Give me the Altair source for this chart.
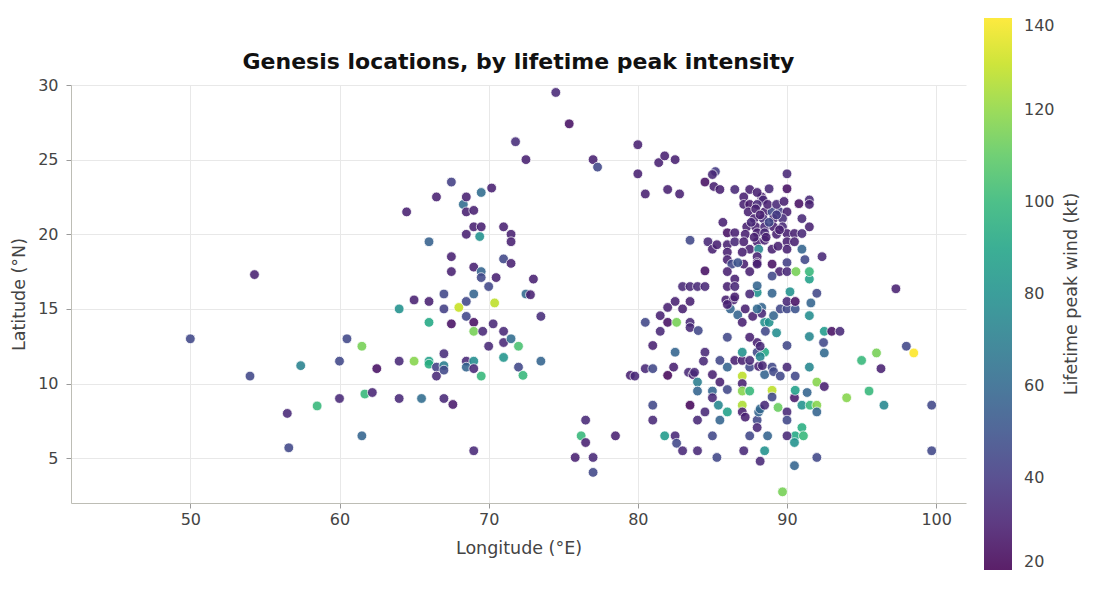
import altair as alt
import pandas as pd

# Genesis points: longitude (°E), latitude (°N), lifetime peak wind (kt)
lon = [
    50.0, 54.3, 54.0, 56.5, 56.6, 57.4, 58.5, 60.0, 60.0, 60.5,
    61.5, 61.5, 61.7, 62.2, 62.5, 64.0, 64.0, 64.0, 64.5, 65.0,
    65.0, 65.5, 66.0, 66.0, 66.0, 66.0, 66.0, 66.5, 66.5, 66.5,
    67.0, 67.0, 67.0, 67.0, 67.0, 67.0, 67.5, 67.5, 67.5, 67.5,
    67.6, 68.0, 68.3, 68.5, 68.5, 68.5, 68.5, 68.5, 68.5, 68.5,
    69.0, 69.0, 69.0, 69.0, 69.0, 69.0, 69.0, 69.0, 69.0, 69.5,
    69.4, 69.5, 69.5, 69.5, 69.6, 69.5, 70.0, 70.0, 70.2, 70.3,
    70.4, 70.5, 71.0, 71.0, 71.0, 71.0, 71.0, 71.5, 71.5, 71.5,
    71.5, 71.8, 72.0, 72.0, 72.3, 72.5, 72.5, 72.8, 73.0, 73.5,
    73.5, 74.5, 75.4, 75.8, 76.2, 76.5, 76.5, 77.0, 77.3, 77.0,
    77.0, 78.5, 79.5, 79.8,
    80.0, 80.0, 80.5, 81.4, 81.8, 82.5, 82.0, 82.8, 83.5, 84.5,
    84.7, 85.0, 84.5, 83.0, 83.5, 84.0, 84.5, 82.5, 83.5, 82.0,
    83.0, 81.5, 80.5, 82.0, 82.6, 83.5, 83.5, 84.05, 81.5, 81.0,
    82.5, 80.5, 81.0, 82.4, 82.0, 83.4, 83.7, 83.8, 84.0, 84.0,
    84.5, 84.4, 85.0, 85.5, 85.0, 85.0, 85.5, 86.0, 86.0, 86.5,
    87.0, 87.0, 87.0, 87.0, 87.0, 87.5, 87.5, 87.5, 88.0, 88.0,
    88.5, 87.5, 86.0, 88.1, 88.5, 88.5, 88.8, 89.3, 88.3, 88.3,
    88.0, 85.9, 86.4, 86.5, 86.2, 86.7, 87.0, 87.7, 88.0,
    81.0, 81.0, 81.8, 82.5, 82.6, 83.0, 83.5, 84.0, 84.0, 84.5,
    85.0, 85.3, 85.4, 85.5, 86.0, 87.0, 87.0, 87.2, 87.1, 87.5,
    88.0, 88.0, 88.1, 88.2, 88.5, 88.2, 88.5, 88.7, 89.4, 89.0,
    89.0, 90.5, 90.55, 91.35, 90.0, 90.0, 91.0, 91.55, 92.0, 92.0,
    91.0, 90.55, 91.1, 90.0, 90.5, 92.0, 90.5, 89.7, 94.0, 95.5,
    96.5, 99.7, 99.7, 92.0, 92.5,
    88.2, 88.2, 88.35, 89.0, 89.1, 89.55, 90.55, 90.0, 91.5, 90.0,
    91.5, 88.55, 89.1, 91.5, 89.55, 90.0, 90.55, 90.0, 90.55, 91.6,
    89.0, 90.2, 92.0, 91.5, 92.5, 93.0, 93.55, 92.45, 92.5, 95.0,
    96.0, 98.0, 98.5, 96.3, 97.3, 92.35,
    85.2, 85.0, 90.0, 85.1, 85.5, 86.5, 87.5, 88.8, 90.0, 87.1,
    88.3, 88.4, 87.1, 87.5, 88.0, 90.8, 91.5, 91.5, 87.4, 87.9,
    88.5, 89.0, 89.5, 90.0, 85.7, 87.8, 88.4, 89.1, 89.7, 91.0,
    87.3, 87.9, 88.5, 89.1, 89.7, 91.5, 86.0, 86.5, 87.2, 88.0,
    88.5, 89.3, 90.0, 90.5, 91.0, 85.3, 86.0, 86.5, 87.1, 88.0,
    88.5, 90.0, 90.5, 86.0, 87.5, 88.1, 89.0, 90.0, 91.0, 86.0,
    88.0, 91.2, 86.3, 87.1, 88.0, 89.0, 90.0, 86.0, 87.5, 89.5,
    90.0, 90.6, 91.5, 89.0, 86.5, 86.0, 86.5, 88.0, 87.5, 86.7,
    88.7, 89.3, 88.2, 89.3, 88.8, 89.5, 87.6, 88.6, 89.8, 88.0,
    87.8, 89.4, 86.0, 87.2, 87.0, 88.0,
]
lat = [
    13.0, 17.3, 10.5, 8.0, 5.7, 11.2, 8.5, 11.5, 9.0, 13.0,
    12.5, 6.5, 9.3, 9.4, 11.0, 15.0, 11.5, 9.0, 21.5, 15.6,
    11.5, 9.0, 19.5, 15.5, 14.1, 11.5, 11.3, 22.5, 11.1, 10.5,
    16.0, 15.0, 12.0, 11.2, 10.9, 9.0, 23.5, 18.5, 17.5, 14.0,
    8.6, 15.1, 22.0, 22.5, 21.5, 20.0, 15.5, 14.5, 11.5, 11.1,
    21.6, 20.5, 17.8, 16.0, 14.1, 13.5, 11.5, 11.0, 5.5, 22.8,
    19.85, 20.5, 17.5, 17.1, 13.5, 10.5, 16.5, 12.5, 23.1, 14.0,
    15.4, 17.1, 20.5, 18.35, 13.5, 12.75, 11.75, 13.0, 20.0, 19.5,
    18.05, 26.2, 12.5, 11.1, 10.55, 25.0, 16.0, 15.95, 17.0, 14.5,
    11.5, 29.5, 27.4, 5.05, 6.5, 7.55, 6.05, 25.0, 24.5, 5.05,
    4.05, 6.5, 10.55, 10.5,
    26.0, 24.05, 22.7, 24.8, 25.25, 25.0, 23.0, 22.7, 19.6, 23.5,
    19.5, 19.0, 17.55, 16.5, 16.5, 16.5, 16.5, 15.5, 15.5, 15.1,
    15.0, 14.55, 14.1, 14.1, 14.1, 14.1, 13.75, 13.55, 13.5, 12.55,
    12.1, 11.0, 11.0, 11.1, 10.55, 10.75, 10.6, 10.75, 10.1, 9.5,
    12.1, 11.5, 10.6, 10.1, 9.5, 9.05, 11.55, 11.1, 9.6, 11.55,
    11.55, 12.1, 10.5, 10.0, 9.5, 9.5, 11.1, 11.55, 12.75, 12.1,
    12.1, 13.1, 13.1, 11.15, 10.6, 14.1, 14.1, 13.4, 15.1, 14.7,
    16.1, 15.6, 15.6, 15.8, 15.0, 14.6, 14.1, 14.5, 15.0,
    8.55, 7.55, 6.5, 6.5, 6.0, 5.5, 8.55, 5.5, 7.55, 8.1,
    6.5, 5.05, 8.55, 7.55, 8.1, 8.55, 8.1, 7.75, 5.5, 6.5,
    7.55, 7.05, 8.1, 8.3, 8.55, 4.8, 5.5, 6.5, 8.4, 9.55,
    9.1, 9.05, 9.55, 9.4, 8.1, 7.55, 8.55, 8.55, 8.55, 8.1,
    7.05, 6.5, 6.5, 6.5, 6.05, 5.05, 4.5, 2.75, 9.05, 9.5,
    8.55, 8.55, 5.5, 10.1, 9.8,
    12.5, 11.8, 11.2, 11.1, 10.8, 10.5, 10.5, 11.1, 11.1, 12.55,
    13.15, 13.5, 14.55, 14.55, 15.0, 15.0, 15.0, 15.5, 15.5, 15.4,
    16.05, 16.15, 16.05, 17.0, 13.5, 13.5, 13.5, 12.75, 12.05, 11.55,
    12.05, 12.5, 12.05, 11.0, 16.35, 18.5,
    24.2, 24.0, 24.05, 23.2, 23.0, 23.0, 23.0, 23.05, 23.05, 22.5,
    22.5, 22.3, 22.0, 22.0, 22.0, 22.05, 22.3, 22.0, 21.5, 21.7,
    21.5, 21.5, 21.5, 21.5, 20.8, 21.05, 21.05, 21.05, 21.05, 21.05,
    20.5, 20.5, 20.5, 20.5, 20.5, 20.5, 20.1, 20.1, 20.0, 20.1,
    20.1, 20.0, 20.05, 20.05, 20.05, 19.3, 19.3, 19.5, 19.5, 19.5,
    19.6, 19.5, 19.5, 18.8, 19.0, 19.0, 19.0, 19.0, 19.0, 18.3,
    18.5, 18.3, 18.0, 18.0, 18.1, 18.0, 18.1, 17.5, 17.5, 17.5,
    17.5, 17.5, 17.5, 17.2, 17.0, 16.5, 16.5, 16.55, 16.0, 18.1,
    22.0, 22.0, 21.3, 21.3, 20.8, 20.3, 20.8, 19.8, 22.2, 22.8,
    19.8, 19.2, 15.3, 15.0, 18.8, 18.0,
]
wind = [
    45, 30, 45, 33, 45, 72, 100, 45, 33, 45,
    115, 58, 100, 32, 25, 80, 33, 33, 30, 30,
    118, 62, 56, 30, 92, 88, 95, 30, 42, 33,
    45, 42, 35, 70, 45, 33, 42, 30, 30, 25,
    28, 130, 62, 30, 30, 30, 45, 45, 33, 58,
    30, 30, 30, 58, 25, 115, 78, 33, 33, 62,
    80, 30, 58, 45, 33, 100, 45, 33, 30, 33,
    128, 30, 30, 45, 33, 33, 82, 62, 30, 30,
    30, 35, 105, 45, 100, 30, 60, 30, 30, 35,
    58, 33, 25, 30, 100, 33, 30, 30, 45, 33,
    45, 30, 30, 33,
    30, 30, 30, 30, 30, 30, 30, 30, 45, 25,
    33, 30, 25, 33, 33, 33, 33, 30, 30, 30,
    30, 30, 45, 25, 115, 33, 33, 45, 33, 30,
    58, 33, 45, 30, 22, 33, 30, 33, 70, 58,
    33, 33, 30, 30, 58, 33, 45, 58, 45, 30,
    30, 80, 128, 30, 118, 100, 45, 33, 30, 45,
    92, 30, 45, 30, 58, 80, 80, 78, 58, 33,
    80, 30, 30, 30, 58, 58, 30, 30, 60,
    45, 33, 85, 33, 45, 33, 22, 33, 33, 33,
    45, 45, 75, 58, 88, 125, 30, 30, 33, 45,
    45, 33, 58, 60, 33, 33, 80, 58, 112, 128,
    45, 28, 88, 58, 33, 45, 80, 100, 118, 58,
    95, 92, 100, 33, 80, 45, 58, 115, 118, 100,
    75, 45, 45, 118, 30,
    33, 75, 33, 45, 45, 45, 45, 33, 75, 45,
    75, 45, 58, 78, 45, 45, 50, 33, 25, 58,
    58, 80, 45, 88, 85, 25, 33, 45, 60, 100,
    115, 45, 140, 30, 30, 33,
    40, 33, 33, 30, 30, 33, 30, 33, 25, 30,
    30, 33, 30, 28, 33, 25, 33, 30, 30, 30,
    30, 45, 40, 30, 30, 30, 35, 30, 35, 33,
    30, 30, 33, 30, 33, 30, 25, 30, 30, 30,
    33, 30, 30, 30, 33, 30, 30, 33, 30, 30,
    30, 30, 30, 30, 30, 75, 30, 30, 58, 30,
    30, 45, 45, 30, 30, 25, 42, 30, 30, 30,
    33, 115, 100, 45, 30, 30, 33, 58, 33, 50,
    30, 33, 30, 40, 45, 30, 33, 30, 30, 30,
    30, 30, 30, 30, 30, 30,
]

df = pd.DataFrame({"lon": lon, "lat": lat, "wind": wind})

FONT = "DejaVu Sans"
INK = "#444444"
CHART_TITLE = "Genesis locations, by lifetime peak intensity"
COLORBAR_TITLE = "Lifetime peak wind (kt)"

points = (
    alt.Chart(df)
    .mark_circle(size=95, opacity=0.88, stroke="white", strokeWidth=0.8)
    .encode(
        x=alt.X(
            "lon:Q",
            title="Longitude (°E)",
            scale=alt.Scale(domain=[42, 102], nice=False, zero=False),
            axis=alt.Axis(values=[50, 60, 70, 80, 90, 100], labelPadding=3, titlePadding=12),
        ),
        y=alt.Y(
            "lat:Q",
            title="Latitude (°N)",
            scale=alt.Scale(domain=[2, 30], nice=False, zero=False),
            axis=alt.Axis(values=[5, 10, 15, 20, 25, 30], labelPadding=8, titlePadding=9),
        ),
        color=alt.Color(
            "wind:Q",
            title=None,
            scale=alt.Scale(scheme="viridis", domain=[20, 140]),
            legend=alt.Legend(
                orient="none",
                legendX=913,
                legendY=-67,
                direction="vertical",
                gradientLength=552,
                gradientThickness=28,
                values=[20, 40, 60, 80, 100, 120, 140],
                labelFontSize=16,
                labelColor=INK,
                labelFont=FONT,
                labelOffset=12,
            ),
        ),
    )
)

# Chart heading, centred over the plotting area
heading = (
    alt.Chart(pd.DataFrame({"t": [CHART_TITLE]}))
    .mark_text(font=FONT, fontSize=22, fontWeight="bold", color="#111111",
               align="center", baseline="middle")
    .encode(text="t:N", x=alt.value(447.5), y=alt.value(-23))
)

# Colorbar caption, rotated to read upward beside the gradient
cbar_title = (
    alt.Chart(pd.DataFrame({"t": [COLORBAR_TITLE]}))
    .mark_text(angle=270, font=FONT, fontSize=17.5, color=INK, align="center", baseline="middle")
    .encode(text="t:N", x=alt.value(1001), y=alt.value(209))
)

chart = (
    alt.layer(points, heading, cbar_title)
    .properties(
        width=895,
        height=418,
        autosize=alt.AutoSizeParams(type="none"),
        padding={"left": 71, "top": 85, "right": 127, "bottom": 91},
        background="white",
    )
    .configure_view(stroke=None)
    .configure_axis(
        labelFont=FONT,
        labelFontSize=16,
        labelColor=INK,
        titleFont=FONT,
        titleFontSize=17.5,
        titleFontWeight="normal",
        titleColor=INK,
        gridColor="#e8e8e8",
        domainColor="#bdbdb5",
        tickColor="#9a9a9a",
        tickSize=5,
    )
)

chart.save("out.html", embed_options={"renderer": "svg", "actions": False})
